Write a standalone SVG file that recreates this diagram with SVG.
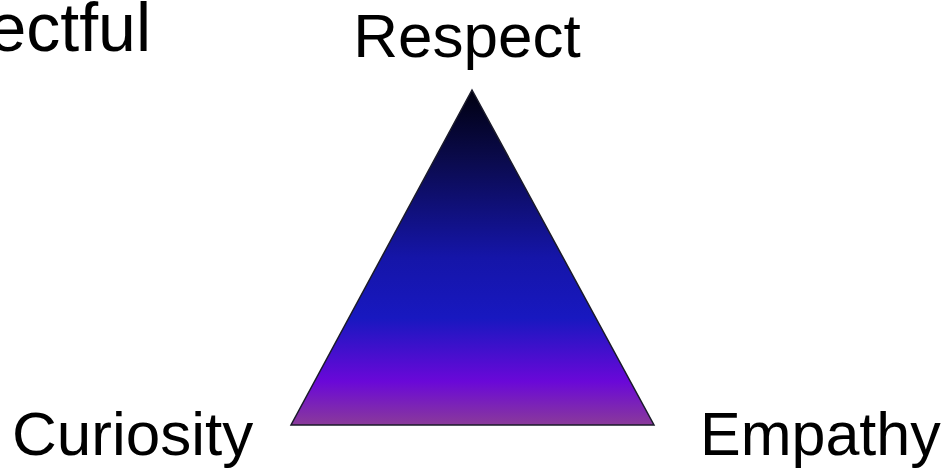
<svg xmlns="http://www.w3.org/2000/svg" width="949" height="471" viewBox="0 0 949 471">
<style>
.lbl{font-family:"Liberation Sans",Arial,sans-serif;font-size:62px;fill:#000}
.big{font-size:68px}
</style>
<defs>
<linearGradient id="g" x1="0" y1="90" x2="0" y2="425" gradientUnits="userSpaceOnUse">
<stop offset="0" stop-color="#000010"/>
<stop offset="0.2" stop-color="#0a0a4a"/>
<stop offset="0.5" stop-color="#1515a8"/>
<stop offset="0.68" stop-color="#1818c0"/>
<stop offset="0.87" stop-color="#6a08d8"/>
<stop offset="1" stop-color="#8a3a9a"/>
</linearGradient>
</defs>
<rect width="949" height="471" fill="#fff"/>
<g id="title"><text class="lbl big" x="151" y="51" text-anchor="end">ectful</text></g>
<g id="triangle"><polygon points="472,90 291,425 654,425" fill="url(#g)" stroke="#1a1a2a" stroke-width="1.5"/></g>
<g id="respect"><text class="lbl" x="467" y="57" text-anchor="middle">Respect</text></g>
<g id="curiosity"><text class="lbl" x="12" y="455">Curiosity</text></g>
<g id="empathy"><text class="lbl" x="700" y="455" style="font-size:61px">Empathy</text></g>
<g id="connectors"/>
</svg>
